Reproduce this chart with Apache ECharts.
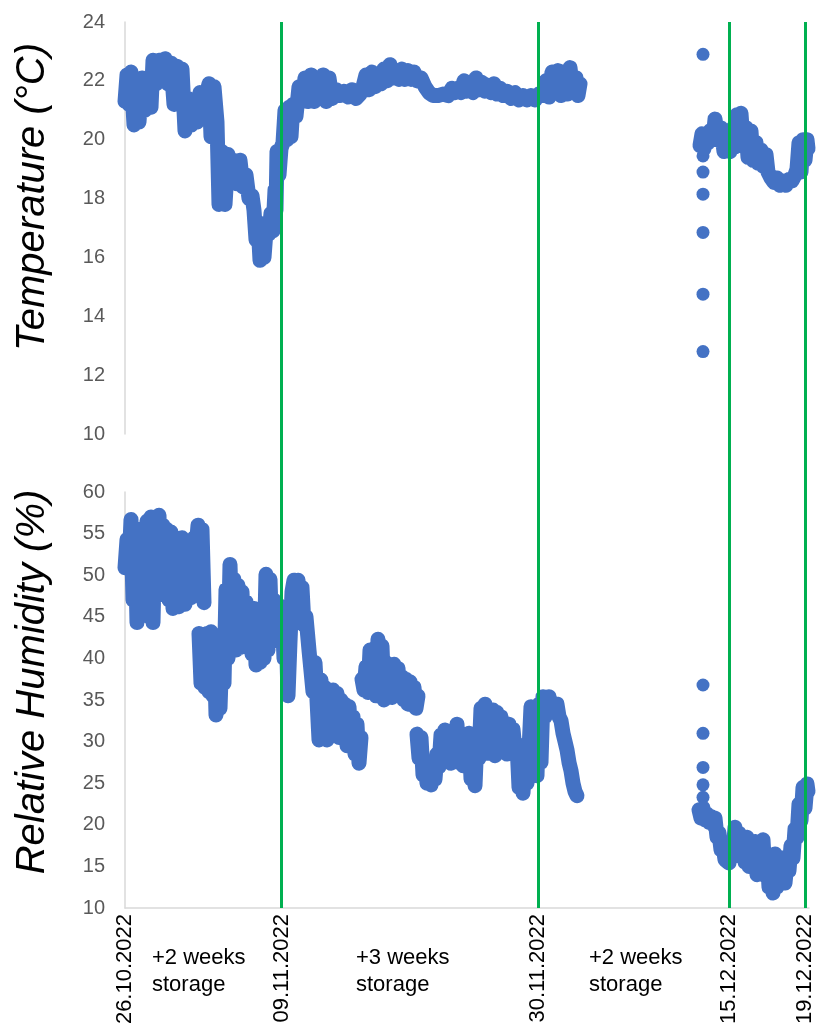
<!DOCTYPE html>
<html>
<head>
<meta charset="utf-8">
<script src="https://cdn.jsdelivr.net/npm/echarts@6/dist/echarts.min.js"></script>
<style>
  html, body { margin: 0; padding: 0; background: #fff; }
  #chart { width: 817px; height: 1028px; }
</style>
</head>
<body>
<div id="chart"></div>
<script>
// x = position along the record (0 = 26.10.2022, 680 = 19.12.2022)
var datePos = [0, 156.7, 413.3, 604.3, 680];
var dateLabels = ['26.10.2022', '09.11.2022', '30.11.2022', '15.12.2022', '19.12.2022'];
var storageNotes = ['+2 weeks\nstorage', '+3 weeks\nstorage', '+2 weeks\nstorage'];

// temperature (°C), 26.10 - 03.12
var tempOctNov = [
  [0,21.3],[2,22.2],[4,21.2],[6,22.3],[9,20.5],[12,22.0],[14,20.6],[17,22.1],[20,21.0],[23,22.05],
  [26,21.1],[28,22.7],[31,21.9],[34,22.7],[37,22.0],[40,22.75],[43,21.9],[46,22.6],[49,21.2],[52,22.5],
  [55,21.3],[57,22.4],[60,20.3],[63,21.4],[66,20.5],[69,21.35],[72,20.6],[75,21.6],[78,20.7],[81,21.5],
  [84,21.9],[86,20.1],[89,21.8],[92,20.6],[94,17.8],[97,19.6],[100,17.8],[103,19.5],[106,18.6],[109,19.3],
  [112,18.5],[115,19.3],[118,18.4],[121,18.8],[124,18.0],[127,18.1],[129,17.6],[131,16.6],[133,17.2],[135,15.9],
  [137,16.9],[139,16.0],[141,16.9],[144,16.8],[146,17.5],[148,16.9],[150,18.3],[151,17.6],[152,19.6],[154,18.8],
  [156,19.7],[158,19.9],[160,21.0],[162,20.0],[164,21.1],[166,20.1],[168,21.2],[171,20.8],[174,21.8],[177,21.3],
  [180,22.1],[183,21.3],[186,22.2],[189,21.3],[192,22.1],[195,21.4],[198,22.2],[201,21.3],[204,22.1],[207,21.4],
  [211,21.7],[215,21.5],[219,21.65],[223,21.45],[227,21.7],[231,21.4],[235,21.55],[238,21.8],[241,22.2],[244,21.7],
  [247,22.3],[250,21.8],[253,22.2],[256,21.9],[259,22.4],[262,22.0],[265,22.55],[268,22.1],[271,22.3],[274,22.05],
  [277,22.4],[280,22.05],[283,22.35],[286,22.05],[289,22.3],[292,22.0],[296,22.1],[300,21.8],[304,21.6],[308,21.5],
  [313,21.5],[318,21.55],[323,21.5],[327,21.75],[330,21.6],[333,21.75],[336,21.6],[339,22.0],[342,21.65],[345,21.8],
  [348,21.6],[351,22.1],[354,21.7],[357,21.95],[360,21.65],[363,21.85],[366,21.6],[369,21.9],[372,21.55],[375,21.75],
  [378,21.5],[382,21.65],[386,21.4],[390,21.6],[394,21.35],[398,21.5],[402,21.35],[406,21.5],[410,21.35],[414,21.55],
  [418,21.5],[421,22.0],[424,21.45],[427,22.3],[430,21.6],[433,22.35],[436,21.5],[439,22.3],[442,21.55],[445,22.45],
  [448,21.6],[451,22.1],[453,21.5],[455,21.9]
];
// temperature, first readings after restart in December
var tempDecStart = [[578,22.9],[578,19.45],[578,18.9],[578,18.15],[578,16.85],[578,14.75],[578,12.8]];
var tempDec = [
  [575,19.8],[577,20.2],[579,19.7],[581,20.2],[583,19.9],[585,20.3],[588,20.0],[590,20.7],[593,20.0],[596,20.4],
  [599,19.6],[602,19.8],[605,19.6],[608,20.4],[610,19.75],[612,20.85],[614,19.8],[616,20.9],[618,19.9],[621,20.4],
  [623,19.4],[626,20.3],[628,19.3],[631,19.9],[633,19.2],[636,19.65],[638,19.1],[641,19.5],[643,18.9],[646,18.7],
  [649,18.55],[652,18.7],[655,18.45],[658,18.6],[661,18.45],[664,18.65],[667,18.6],[670,18.8],[672,19.0],[674,19.9],
  [676,18.9],[678,20.0],[680,19.3],[682,20.0],[683,19.7]
];

// relative humidity (%)
var rhOctA = [
  [0,50.9],[2,54.3],[4,51.0],[6,56.7],[8,47.0],[10,54.5],[12,44.3],[14,55.5],[16,46.0],[18,52.0],
  [20,49.3],[22,56.5],[24,45.0],[26,57.0],[28,44.3],[30,55.0],[32,47.5],[34,57.2],[36,48.0],[38,56.0],
  [40,47.6],[42,55.5],[44,47.0],[46,55.2],[48,46.0],[51,54.0],[54,46.2],[57,54.5],[60,46.5],[63,53.7],
  [66,47.3],[69,54.5],[71,53.2],[73,56.0],[75,54.5],[77,55.5],[79,46.7]
];
var rhOctB = [
  [74,43.0],[76,37.0],[78,42.5],[80,36.5],[82,43.0],[84,36.0],[86,43.2],[88,35.5],[90,38.0],[91,33.2],
  [93,36.0],[95,34.0],[97,41.0],[99,37.0],[101,48.3],[103,40.0],[105,51.3],[107,43.3],[109,49.5],[111,41.0],
  [113,48.8],[115,41.3],[117,48.0],[119,42.0],[121,46.8],[123,41.8],[125,45.5],[127,40.5],[129,46.0],[131,39.2],
  [133,44.0],[135,39.5],[137,45.0],[139,40.0],[141,50.1],[143,41.0],[145,49.5],[147,42.0],[149,47.0],[151,42.5],
  [153,46.5],[155,44.0],[157,45.8],[159,40.0],[161,44.5],[163,35.5],[165,42.0],[167,48.0],[169,49.4],[171,45.0],
  [173,49.4],[175,47.0],[177,48.5],[179,44.0],[181,45.0],[184,41.0],[186,38.5],[188,36.0],[190,39.5],[192,35.0],
  [194,30.2],[196,37.4],[198,31.0],[200,36.5],[202,30.2],[204,35.5],[206,31.4],[208,36.2],[210,31.5],[212,35.8],
  [214,30.5],[216,35.0],[218,31.0],[220,34.5],[222,29.5],[224,34.2],[226,30.5],[228,33.0],[230,28.5],[232,32.1],
  [234,27.4],[236,30.5]
];
var rhNovA = [
  [237,37.5],[239,36.2],[241,39.0],[243,35.9],[245,41.0],[247,36.5],[249,40.5],[251,35.5],[253,42.3],[255,36.0],
  [257,41.5],[259,35.0],[261,39.5],[263,36.5],[265,38.5],[267,35.3],[269,39.3],[271,36.0],[273,38.8],[275,35.5],
  [277,37.8],[279,35.0],[281,37.5],[283,34.5],[285,37.2],[287,34.6],[289,36.5],[291,34.0],[293,35.5]
];
var rhNovB = [
  [292,30.9],[294,28.0],[296,30.5],[298,26.0],[300,27.5],[302,25.0],[304,26.0],[306,24.8],[308,26.5],[310,25.5],
  [312,28.5],[314,27.0],[316,30.8],[318,27.5],[320,31.4],[322,28.0],[324,31.0],[326,27.4],[328,30.5],[330,28.0],
  [332,32.1],[334,27.5],[336,31.0],[338,27.1],[340,30.5],[342,28.0],[344,31.0],[346,25.5],[348,29.0],[350,24.7],
  [352,30.5],[354,28.0],[356,34.0],[358,29.0],[360,34.5],[362,28.6],[364,32.0],[366,29.0],[368,33.8],[370,28.3],
  [372,33.5],[374,29.5],[376,33.0],[378,29.0],[380,32.0],[382,28.5],[384,32.1],[386,29.0],[388,31.5],[390,29.0],
  [392,29.7],[394,24.5],[396,29.5],[398,23.8],[400,28.0],[402,25.0],[404,29.0],[406,34.2],[408,26.0],[410,33.0],
  [412,25.9],[414,34.5],[416,27.5],[418,35.4],[420,33.0],[422,34.8],[424,35.4],[426,34.0],[428,34.5],[430,33.5],
  [432,34.5],[434,33.0],[436,32.5],[438,31.0],[440,30.0],[442,29.0],[444,27.5],[446,26.5],[448,25.0],[450,24.0],
  [452,23.5]
];
var rhDecStart = [[578,36.8],[578,31.0],[578,26.9],[578,24.8],[578,23.3]];
var rhDec = [
  [574,21.8],[576,20.8],[578,22.0],[580,20.6],[582,21.3],[584,20.3],[586,21.0],[588,20.0],[590,20.8],[592,18.5],
  [594,19.0],[596,17.0],[598,17.5],[600,15.8],[602,16.0],[604,15.4],[606,17.5],[608,16.5],[610,19.7],[612,16.3],
  [614,19.0],[616,16.5],[618,18.0],[620,15.5],[622,18.5],[624,15.0],[626,17.5],[628,15.5],[630,18.0],[632,14.0],
  [634,17.0],[636,14.5],[638,18.2],[640,13.9],[642,16.5],[644,12.5],[646,15.5],[648,11.8],[650,16.5],[652,12.5],
  [654,16.1],[656,13.0],[658,16.0],[660,13.0],[662,15.5],[664,14.5],[666,17.5],[668,16.0],[670,19.5],[672,18.5],
  [674,22.5],[676,20.5],[678,24.5],[680,22.0],[682,24.9],[683,24.0]
];

var blue = '#4472C4';
var green = '#00B050';
var axisGrey = '#D9D9D9';

var myChart = echarts.init(document.getElementById('chart'));

function blob(data, xi, yi) {
  return {
    type: 'line', xAxisIndex: xi, yAxisIndex: yi, data: data,
    showSymbol: false, clip: false, silent: true,
    lineStyle: { color: blue, width: 15, cap: 'round', join: 'round' }
  };
}
function dots(data, xi, yi) {
  return {
    type: 'scatter', xAxisIndex: xi, yAxisIndex: yi, data: data,
    symbolSize: 13, clip: false, silent: true,
    itemStyle: { color: blue, opacity: 1 }
  };
}

var yStyle = {
  axisLine: { show: true, lineStyle: { color: axisGrey, width: 1.5 } },
  axisTick: { show: false },
  splitLine: { show: false },
  axisLabel: { color: '#595959', fontSize: 20, fontFamily: 'Liberation Sans', margin: 20 },
  nameLocation: 'middle',
  nameRotate: 90
};

myChart.setOption({
  animation: false,
  grid: [
    { left: 125, top: 22, width: 684, height: 412, outerBoundsMode: 'none' },
    { left: 125, top: 492, width: 684, height: 416, outerBoundsMode: 'none' },
    { left: 125, top: 22, width: 684, height: 886, outerBoundsMode: 'none' }
  ],
  xAxis: [
    { type: 'value', gridIndex: 0, min: 0, max: 684, show: false },
    {
      type: 'value', gridIndex: 1, min: 0, max: 684,
      axisLine: { show: true, lineStyle: { color: axisGrey, width: 1.5 } },
      axisTick: { show: false },
      splitLine: { show: false },
      axisLabel: {
        customValues: datePos,
        rotate: 90,
        margin: 6,
        color: '#000',
        fontSize: 22,
        fontFamily: 'Liberation Sans',
        formatter: function (v) { return dateLabels[datePos.indexOf(v)]; }
      }
    },
    { type: 'value', gridIndex: 2, min: 0, max: 684, show: false }
  ],
  yAxis: [
    Object.assign({}, yStyle, {
      type: 'value', gridIndex: 0, min: 10, max: 24, interval: 2,
      name: 'Temperature (°C)', nameGap: 72,
      nameTextStyle: { fontSize: 40, fontStyle: 'italic', color: '#000', fontFamily: 'Liberation Sans', padding: [0, 0, 0, 62] }
    }),
    Object.assign({}, yStyle, {
      type: 'value', gridIndex: 1, min: 10, max: 60, interval: 5,
      name: 'Relative Humidity (%)', nameGap: 72,
      nameTextStyle: { fontSize: 40, fontStyle: 'italic', color: '#000', fontFamily: 'Liberation Sans', padding: [0, 0, 0, 36] }
    }),
    { type: 'value', gridIndex: 2, min: 0, max: 1, show: false }
  ],
  series: [
    blob(tempOctNov, 0, 0),
    blob(tempDec, 0, 0),
    dots(tempDecStart, 0, 0),
    blob(rhOctA, 1, 1),
    blob(rhOctB, 1, 1),
    blob(rhNovA, 1, 1),
    blob(rhNovB, 1, 1),
    blob(rhDec, 1, 1),
    dots(rhDecStart, 1, 1),
    {
      // storage checkpoints
      type: 'line', xAxisIndex: 2, yAxisIndex: 2, data: [], z: 5,
      markLine: {
        silent: true, symbol: 'none',
        label: { show: false },
        lineStyle: { color: green, width: 3, type: 'solid' },
        data: datePos.slice(1).map(function (v) { return { xAxis: v }; })
      }
    }
  ],
  graphic: [
    { type: 'text', left: 152, top: 944, style: { text: storageNotes[0], font: '22px "Liberation Sans"', lineHeight: 27, fill: '#000' } },
    { type: 'text', left: 356, top: 944, style: { text: storageNotes[1], font: '22px "Liberation Sans"', lineHeight: 27, fill: '#000' } },
    { type: 'text', left: 589, top: 944, style: { text: storageNotes[2], font: '22px "Liberation Sans"', lineHeight: 27, fill: '#000' } }
  ]
});
</script>
</body>
</html>
